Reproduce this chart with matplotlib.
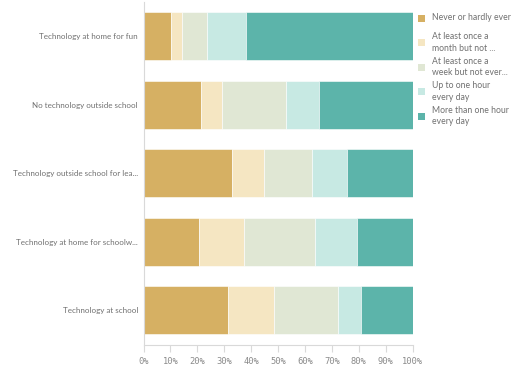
import matplotlib
matplotlib.use("Agg")
import matplotlib.pyplot as plt
from matplotlib.patches import Rectangle
import numpy as np

categories = [
    "Technology at home for fun",
    "No technology outside school",
    "Technology outside school for lea...",
    "Technology at home for schoolw...",
    "Technology at school",
]
series_labels = [
    "Never or hardly ever",
    "At least once a\nmonth but not ...",
    "At least once a\nweek but not ever...",
    "Up to one hour\nevery day",
    "More than one hour\nevery day",
]
never = [10.3, 21.4, 32.8, 20.7, 31.3]
monthly = [3.9, 7.9, 12.0, 16.7, 17.2]
weekly = [9.4, 23.7, 17.9, 26.2, 23.8]
up_to_hour = [14.4, 12.2, 12.8, 15.9, 8.7]
more_than_hour = [62.0, 34.8, 24.5, 20.5, 19.0]
tick_values = [0, 10, 20, 30, 40, 50, 60, 70, 80, 90, 100]

colors = ["#d6b063", "#f5e6c2", "#e0e7d4", "#c7e9e3", "#5cb4aa"]
text_color = "#707070"

fig = plt.figure(figsize=(5.2, 3.69), dpi=100)
W, H = 520, 369
ax = fig.add_axes([143.5 / W, 1 - 344.5 / H, 269 / W, 342.5 / H])

series = [never, monthly, weekly, up_to_hour, more_than_hour]
y = np.arange(len(categories))
left = np.zeros(len(categories))
for vals, col in zip(series, colors):
    vals = np.array(vals)
    ax.barh(y, vals, left=left, height=0.70, color=col, edgecolor="white", linewidth=0.4)
    left += vals

ax.set_ylim(len(categories) - 0.5, -0.5)
ax.set_xlim(0, 100)
ax.set_yticks(y)
ax.set_yticklabels(categories, fontsize=5.8, color=text_color, family="Lato")
ax.tick_params(axis="y", length=0, pad=4)
ax.set_xticks(tick_values)
ax.set_xticklabels([f"{v}%" for v in tick_values], fontsize=6.3, color="#8a8a8a",
                   family="DejaVu Sans Mono")
ax.tick_params(axis="x", length=5, width=0.8, color="#d9d9d9", pad=4)

for s in ["top", "right"]:
    ax.spines[s].set_visible(False)
ax.spines["left"].set_color("#d9d9d9")
ax.spines["bottom"].set_color("#d9d9d9")
ax.spines["left"].set_linewidth(0.8)
ax.spines["bottom"].set_linewidth(0.8)

# Legend laid out in fixed-height slots, swatch centred on each label block
slot_top, slot_pitch, sw = 18.0, 24.5, 7.0
for i, (col, lab) in enumerate(zip(colors, series_labels)):
    cy = slot_top + i * slot_pitch
    fig.add_artist(Rectangle((418 / W, 1 - (cy + sw / 2) / H), sw / W, sw / H,
                             transform=fig.transFigure, facecolor=col, edgecolor="none"))
    fig.text(432 / W, 1 - cy / H, lab, ha="left", va="center", fontsize=6.2,
             family="Lato", color=text_color, linespacing=1.38)

fig.savefig("out.png", dpi=100)
